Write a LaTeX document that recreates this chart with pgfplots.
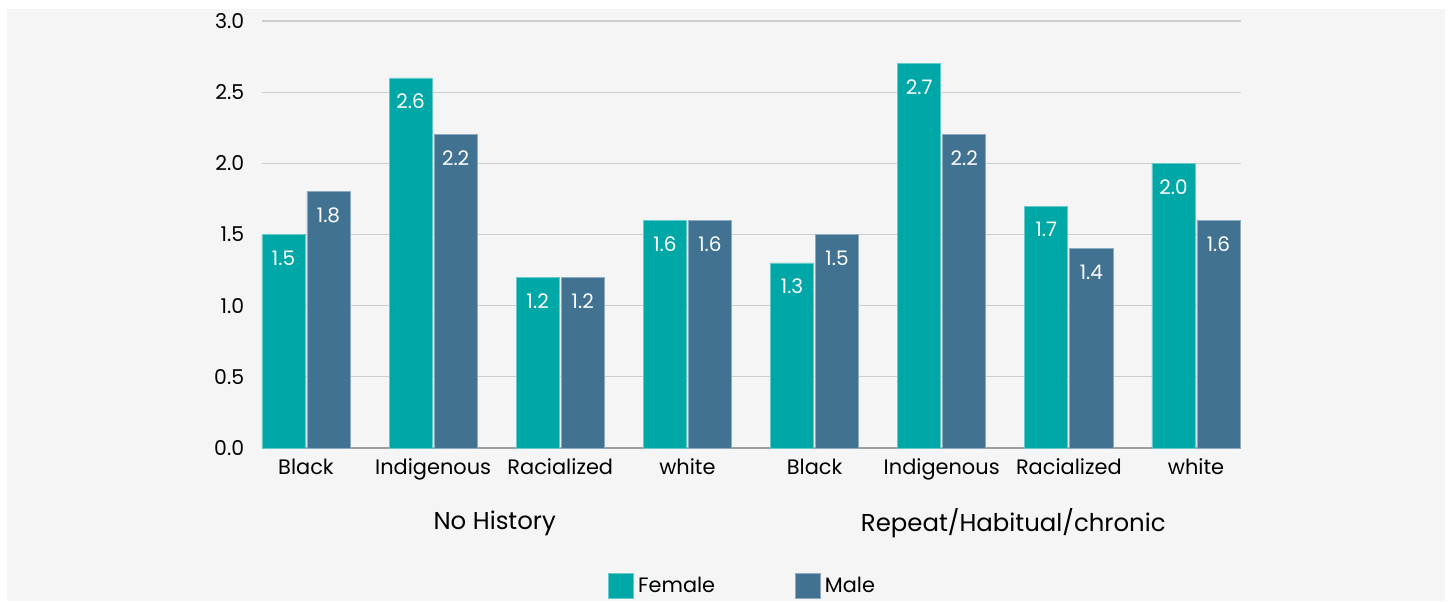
\documentclass[border=0pt]{standalone}
\usepackage{pgfplots}
\pgfplotsset{compat=1.18}
\usepackage{fontspec}
\setmainfont{Poppins}
\definecolor{bg}{HTML}{F5F5F5}
\definecolor{fem}{HTML}{00A7A7}
\definecolor{mal}{HTML}{417292}
\definecolor{gridc}{HTML}{CDCDCD}
\definecolor{axc}{HTML}{9E9E9E}
\pgfplotsset{sqlegend/.style={legend image code/.code={\fill[##1] (0pt,-6.25pt) rectangle (12.5pt,6.25pt);}}}
\begin{document}
\begin{tikzpicture}[x=1pt,y=1pt]
\fill[white] (0,0) rectangle (724,300.5);
\fill[bg] (3.5,0) rectangle (722.5,296);
\useasboundingbox (0,0) rectangle (724,300.5);
\begin{axis}[
  at={(131pt,76.5pt)}, anchor=south west,
  scale only axis, width=489.5pt, height=213.5pt,
  xmin=-0.346, xmax=7.354, ymin=0, ymax=3,
  enlargelimits=false,
  ybar, bar width=0.339,
  axis lines*=left,
  x axis line style={-, draw=axc, line width=0.75pt},
  y axis line style={draw=none},
  major tick length=0pt,
  ymajorgrids, grid style={draw=gridc, line width=0.6pt},
  ytick={0,0.5,1,1.5,2,2.5,3},
  yticklabel={\pgfmathprintnumber[fixed,fixed zerofill,precision=1]{\tick}},
  /pgf/number format/assume math mode=true,
  yticklabel style={font=\fontsize{10.2}{12}\selectfont, anchor=east, xshift=-5.4pt},
  xtick={0,1,2,3,4,5,6,7},
  xticklabels={Black,Indigenous,Racialized,white,Black,Indigenous,Racialized,white},
  xticklabel style={font=\fontsize{10.45}{12}\selectfont, anchor=base, yshift=-13pt},
  nodes near coords={\pgfmathprintnumber[fixed,fixed zerofill,precision=1]{\pgfplotspointmeta}},
  every node near coord/.append style={font=\fontsize{10}{12}\selectfont, text=white, anchor=center, yshift=-11.8pt},
  sqlegend,
  legend style={at={(0.492,-0.323)}, anchor=center, draw=none, fill=none,
    font=\fontsize{10.4}{12}\selectfont, legend columns=2,
    /tikz/every even column/.append style={column sep=38pt}},
  clip=false,
]
\addplot[fill=fem, draw=fem!60!white, line width=0.4pt, bar shift=-0.177] coordinates {(0,1.5) (1,2.6) (2,1.2) (3,1.6) (4,1.3) (5,2.7) (6,1.7) (7,2.0)};
\addlegendentry{Female}
\addplot[fill=mal, draw=mal!60!white, line width=0.4pt, bar shift=0.177] coordinates {(0,1.8) (1,2.2) (2,1.2) (3,1.6) (4,1.5) (5,2.2) (6,1.4) (7,1.6)};
\addlegendentry{Male}
\node[font=\fontsize{12.2}{14}\selectfont] at (axis cs:1.5,0) [yshift=-37.5pt, xshift=-1pt] {No History};
\node[font=\fontsize{12.2}{14}\selectfont] at (axis cs:5.5,0) [yshift=-37.5pt, xshift=4pt] {Repeat/Habitual/chronic};
\end{axis}
\end{tikzpicture}
\end{document}
